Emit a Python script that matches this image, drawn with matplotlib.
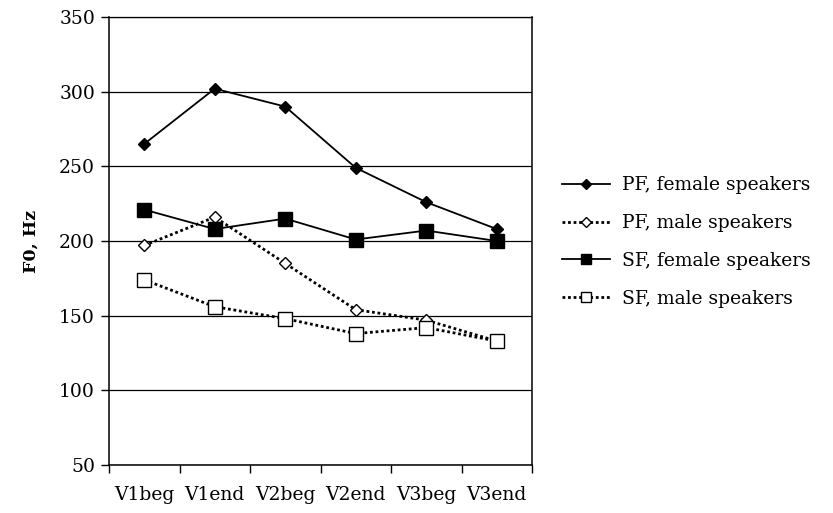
import matplotlib.pyplot as plt
import numpy as np

plt.rcParams['font.family'] = ['DejaVu Serif']

CATEGORIES = ["V1beg", "V1end", "V2beg", "V2end", "V3beg", "V3end"]
PF_FEMALE = [265, 302, 290, 249, 226, 208]
PF_MALE   = [197, 216, 185, 154, 147, 133]
SF_FEMALE = [221, 208, 215, 201, 207, 200]
SF_MALE   = [174, 156, 148, 138, 142, 133]
Y_TICKS   = [50, 100, 150, 200, 250, 300, 350]

fig = plt.figure(figsize=(8.33, 5.13), dpi=100)
ax = fig.add_axes([109 / 833, 48 / 513, 423 / 833, 448 / 513])

x = np.arange(len(CATEGORIES))
ax.plot(x, PF_FEMALE, color="black", lw=1.3, marker="D", ms=6.5,
        mfc="black", mec="black", label="PF, female speakers")
ax.plot(x, PF_MALE, color="black", lw=2, ls=(0, (1, 1)), marker="D", ms=6.5,
        mfc="white", mec="black", mew=1, label="PF, male speakers")
ax.plot(x, SF_FEMALE, color="black", lw=1.3, marker="s", ms=9.5,
        mfc="black", mec="black", label="SF, female speakers")
ax.plot(x, SF_MALE, color="black", lw=2, ls=(0, (1, 1)), marker="s", ms=9.5,
        mfc="white", mec="black", mew=1, label="SF, male speakers")

ax.set_xlim(-0.5, len(CATEGORIES) - 0.5)
ax.set_ylim(50, 350)
ax.set_yticks(Y_TICKS)
ax.yaxis.grid(True, color="black", lw=0.9)
ax.set_axisbelow(True)

ax.set_xticks(x)
ax.set_xticklabels(CATEGORIES, fontsize=13.5)
ax.tick_params(axis="x", length=0, pad=15)
ax.set_xticks(np.arange(-0.5, len(CATEGORIES)), minor=True)
ax.tick_params(axis="x", which="minor", length=6, direction="out", width=1)
ax.tick_params(axis="y", labelsize=13.5, length=6, width=1, pad=4)

for s in ax.spines.values():
    s.set_linewidth(1.1)
ax.spines["top"].set_linewidth(0.9)

ax.set_ylabel("F0, Hz", fontsize=12.5, fontweight="bold", labelpad=14)

ax.legend(loc="center left", bbox_to_anchor=(562 / 833, 1 - 242 / 513),
          bbox_transform=fig.transFigure, frameon=False, borderpad=0,
          borderaxespad=0, fontsize=13.5, handlelength=2.56,
          labelspacing=1.05, handletextpad=0.64, markerscale=0.75)

fig.savefig("out.png", dpi=100)
